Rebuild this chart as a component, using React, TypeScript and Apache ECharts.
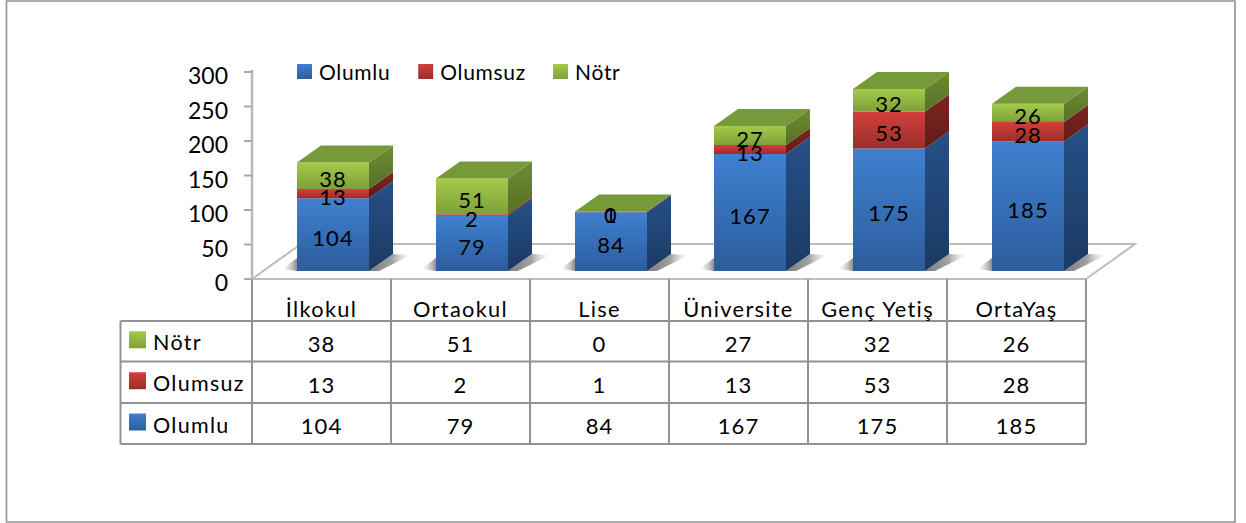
import React, { useEffect, useRef } from "react";
import * as echarts from "echarts";

const categories = ["İlkokul", "Ortaokul", "Lise", "Üniversite", "Genç Yetiş", "OrtaYaş"];
const olumlu = [104, 79, 84, 167, 175, 185];
const olumsuz = [13, 2, 1, 13, 53, 28];
const notr = [38, 51, 0, 27, 32, 26];
const yTicks = [0, 50, 100, 150, 200, 250, 300];

const FONT = "Lato";
const FS_DIGIT = 22;
const FS_AXIS = 23;
const FS_LEGEND = 21;
const FS_ROW = 21.5;
const FS_CAT = 21.8;
const lg = (a: string, b: string) =>
  new echarts.graphic.LinearGradient(0, 0, 0, 1, [
    { offset: 0, color: a },
    { offset: 1, color: b },
  ]);

const palette: Record<string, any> = {
  Olumlu: { f: ["#3F80D0", "#2C5D9C"], s: ["#265087", "#1B3A63"] },
  Olumsuz: { f: ["#D23F3B", "#9B2E2B"], s: ["#7E2522", "#5F1C1A"] },
  "Nötr": { f: ["#A3CB4B", "#7F9F3A"], s: ["#6E8D32", "#566F26"], t: "#76993A" },
};

const DX = 24;
const DY = 17;
const BAR = 72;
const FLOOR_DX = 49;
const FLOOR_DY = 35;

function stackData(vals: number[], below: number[][]) {
  return vals.map((v, i) => {
    const s = below.reduce((a, b) => a + b[i], 0);
    return [i, s, s + v, v];
  });
}

function makeRender(name: string, withShadow: boolean) {
  const pal = palette[name];
  return (_p: any, api: any) => {
    const i = api.value(0);
    const a = api.coord([i, api.value(1)]);
    const b = api.coord([i, api.value(2)]);
    const x0 = a[0] - BAR / 2;
    const x1 = a[0] + BAR / 2;
    const yb = a[1];
    const yt = b[1];
    const children: any[] = [];
    if (withShadow) {
      children.push({
        type: "polygon",
        shape: { points: [[x1, yb], [x1 + DX, yb - DY], [x1 + DX + 18, yb - DY + 1], [x1 + 10, yb]] },
        style: {
          fill: new echarts.graphic.LinearGradient(0, 0, 1, 0, [
            { offset: 0, color: "rgba(90,90,90,0.8)" },
            { offset: 0.55, color: "rgba(120,120,120,0.7)" },
            { offset: 1, color: "rgba(200,200,200,0)" },
          ]),
        },
      });
      children.push({
        type: "polygon",
        shape: { points: [[x0 - 15, yb - 2], [x0, yb], [x0, yb - 13]] },
        style: {
          fill: new echarts.graphic.LinearGradient(0, 0, 1, 0, [
            { offset: 0, color: "rgba(200,200,200,0)" },
            { offset: 1, color: "rgba(110,110,110,0.8)" },
          ]),
        },
      });
    }
    if (yb - yt > 0) {
      children.push({
        type: "polygon",
        shape: { points: [[x1, yb], [x1 + DX, yb - DY], [x1 + DX, yt - DY], [x1, yt]] },
        style: { fill: lg(pal.s[0], pal.s[1]) },
      });
      children.push({
        type: "rect",
        shape: { x: x0, y: yt, width: BAR, height: yb - yt },
        style: { fill: lg(pal.f[0], pal.f[1]) },
      });
    }
    if (pal.t) {
      children.push({
        type: "polygon",
        shape: { points: [[x0, yt], [x1, yt], [x1 + DX, yt - DY], [x0 + DX, yt - DY]] },
        style: { fill: pal.t },
      });
    }
    children.push({
      type: "text",
      z2: 100,
      x: a[0],
      y: (yb + yt) / 2 + 3,
      style: {
        text: String(api.value(3)),
        fontFamily: FONT,
        fontSize: FS_DIGIT,
        fill: "#000",
        align: "center",
        verticalAlign: "middle",
      },
    });
    return { type: "group", children };
  };
}

// Floor, value-axis line and its tick marks.
function renderFloor(params: any, api: any) {
  const c = params.coordSys;
  const yb = c.y + c.height;
  const xr = c.x + c.width;
  const t = api.coord([0, api.value(1)]);
  const children: any[] = [
    {
      type: "polyline",
      shape: { points: [[c.x - 8, t[1]], [c.x, t[1]]] },
      style: { fill: "none", stroke: "#A8A8A8", lineWidth: 2 },
    },
  ];
  if (params.dataIndex === 0) {
    children.push({
      type: "polyline",
      shape: {
        points: [
          [c.x, yb],
          [c.x + FLOOR_DX, yb - FLOOR_DY],
          [xr + FLOOR_DX, yb - FLOOR_DY],
          [xr, yb],
        ],
      },
      style: { fill: "none", stroke: "#BDBDBD", lineWidth: 2 },
    });
    children.push({
      type: "polyline",
      shape: { points: [[c.x, c.y - 2], [c.x, yb]] },
      style: { fill: "none", stroke: "#B8B8B8", lineWidth: 2.5 },
    });
  }
  return { type: "group", children };
}

const COL0 = 252;
const COLW = 139;
const ROWS = [321, 361.5, 403, 444];
const LINE = "#929292";
const LW = 2;

function tableGraphics() {
  const g: any[] = [];
  g.push({
    type: "rect",
    shape: { x: 6.5, y: 1, width: 1228.5, height: 521 },
    style: { fill: "none", stroke: "#929292", lineWidth: 1.6 },
  });
  ROWS.forEach((y) =>
    g.push({
      type: "line",
      shape: { x1: 120.5, y1: y, x2: COL0 + COLW * categories.length, y2: y },
      style: { stroke: LINE, lineWidth: LW },
    })
  );
  [120.5, ...categories.map((_c, i) => COL0 + COLW * i), COL0 + COLW * categories.length].forEach((x) => {
    g.push({
      type: "line",
      shape: { x1: x, y1: ROWS[0], x2: x, y2: ROWS[3] },
      style: { stroke: LINE, lineWidth: LW },
    });
  });
  const rows: [string, number[]][] = [
    ["Nötr", notr],
    ["Olumsuz", olumsuz],
    ["Olumlu", olumlu],
  ];
  rows.forEach(([name, vals], r) => {
    const cy = (ROWS[r] + ROWS[r + 1]) / 2 + 1;
    const pal = palette[name];
    g.push({
      type: "rect",
      shape: { x: 129, y: cy - 11, width: 17, height: 17 },
      style: { fill: lg(pal.f[0], pal.f[1]) },
    });
    g.push({
      type: "text",
      x: 153,
      y: cy,
      style: { text: name, fontFamily: FONT, fontSize: FS_ROW, fill: "#000", align: "left", verticalAlign: "middle" },
    });
    vals.forEach((v, i) => {
      g.push({
        type: "text",
        x: COL0 + COLW * (i + 0.5),
        y: cy + 1,
        style: { text: String(v), fontFamily: FONT, fontSize: FS_DIGIT, fill: "#000", align: "center", verticalAlign: "middle" },
      });
    });
  });
  return g;
}

const spacingCss = `
text[style*="${FS_DIGIT}px"] { letter-spacing: 1.1px; }
text[style*="${FS_LEGEND}px"] { letter-spacing: 0.7px; }
text[style*="${FS_ROW}px"] { letter-spacing: 1.3px; }
text[style*="${FS_CAT}px"] { letter-spacing: 1.3px; }
`;

export default function App() {
  const ref = useRef<HTMLDivElement>(null);
  useEffect(() => {
    document.body.style.margin = "0";
    const chart = echarts.init(ref.current!, undefined, { renderer: "svg" });
    const hiddenAxis = { show: false };
    chart.setOption({
      animation: false,
      backgroundColor: "#fff",
      legend: {
        left: 297,
        top: 61,
        itemWidth: 15,
        itemHeight: 15,
        itemGap: 32,
        icon: "rect",
        textStyle: { fontFamily: FONT, fontSize: FS_LEGEND, color: "#000", padding: [0, 0, 0, 2] },
        padding: 0,
        data: ["Olumlu", "Olumsuz", "Nötr"],
      },
      grid: [
        { left: 252, width: 834, top: 72, height: 207 },
        { left: 263.5, width: 834, top: 61, height: 210 },
      ],
      xAxis: [
        {
          type: "category",
          gridIndex: 0,
          data: categories,
          boundaryGap: true,
          axisLine: { lineStyle: { color: "#BDBDBD", width: 2 } },
          axisTick: { show: true, alignWithLabel: false, length: 42, lineStyle: { color: LINE, width: LW } },
          axisLabel: { fontFamily: FONT, fontSize: FS_CAT, color: "#000", margin: 18, interval: 0 },
        },
        { type: "category", gridIndex: 1, data: categories, ...hiddenAxis },
      ],
      yAxis: [
        {
          type: "value",
          gridIndex: 0,
          position: "left",
          min: 0,
          max: 300,
          interval: 50,
          axisLine: { show: false },
          axisTick: { show: false },
          axisLabel: {
            fontFamily: FONT,
            fontSize: FS_AXIS,
            color: "#000",
            margin: 24,
            verticalAlign: "top",
            lineHeight: 6,
          },
          splitLine: { show: false },
        },
        { type: "value", gridIndex: 1, min: 0, max: 300, interval: 50, ...hiddenAxis },
      ],
      graphic: tableGraphics(),
      series: [
        {
          type: "custom",
          xAxisIndex: 0,
          yAxisIndex: 0,
          z: 1,
          silent: true,
          clip: false,
          renderItem: renderFloor,
          encode: { x: 0, y: 1 },
          data: yTicks.map((t) => [0, t]),
        },
        {
          name: "Olumlu",
          type: "custom",
          xAxisIndex: 1,
          yAxisIndex: 1,
          itemStyle: { color: lg(palette.Olumlu.f[0], palette.Olumlu.f[1]) },
          renderItem: makeRender("Olumlu", true),
          encode: { x: 0, y: [1, 2] },
          data: stackData(olumlu, []),
        },
        {
          name: "Olumsuz",
          type: "custom",
          xAxisIndex: 1,
          yAxisIndex: 1,
          itemStyle: { color: lg(palette.Olumsuz.f[0], palette.Olumsuz.f[1]) },
          renderItem: makeRender("Olumsuz", false),
          encode: { x: 0, y: [1, 2] },
          data: stackData(olumsuz, [olumlu]),
        },
        {
          name: "Nötr",
          type: "custom",
          xAxisIndex: 1,
          yAxisIndex: 1,
          itemStyle: { color: lg(palette["Nötr"].f[0], palette["Nötr"].f[1]) },
          renderItem: makeRender("Nötr", false),
          encode: { x: 0, y: [1, 2] },
          data: stackData(notr, [olumlu, olumsuz]),
        },
      ],
    });
    return () => chart.dispose();
  }, []);
  return (
    <>
      <style>{spacingCss}</style>
      <div ref={ref} style={{ width: 1246, height: 523 }} />
    </>
  );
}
